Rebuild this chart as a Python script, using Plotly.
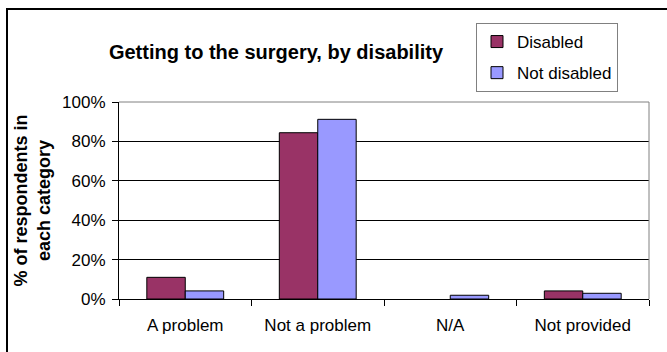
import plotly.graph_objects as go

categories = ["A problem", "Not a problem", "N/A", "Not provided"]
disabled = [0.11, 0.844, 0.0, 0.041]
not_disabled = [0.041, 0.912, 0.019, 0.029]
y_ticks = [0, 0.2, 0.4, 0.6, 0.8, 1.0]

W, H = 667, 352
L, R, T, B = 119, 18, 102, 53
pw, ph = W - L - R, H - T - B

FONT = "Liberation Sans, Arial, sans-serif"

def outline(vals):
    # zero-height bars are not outlined in the original
    return [1 if v > 0 else 0 for v in vals]

fig = go.Figure()
fig.add_trace(go.Bar(x=categories, y=disabled, name="Disabled",
                     marker=dict(color="#993366",
                                 line=dict(color="black", width=outline(disabled))),
                     legendgroup="a"))
fig.add_trace(go.Bar(x=categories, y=not_disabled, name="Not disabled",
                     marker=dict(color="#9999FF",
                                 line=dict(color="black", width=outline(not_disabled))),
                     legendgroup="b"))

def px_x(p):
    return (p - L) / pw

def px_y(p):
    return (H - B - p) / ph

fig.update_layout(
    width=W, height=H,
    margin=dict(l=L, r=R, t=T, b=B, pad=0),
    paper_bgcolor="white", plot_bgcolor="white",
    font=dict(family=FONT, size=17, color="black"),
    barmode="group", bargap=0.42, bargroupgap=0,
    title=dict(text="<b>Getting to the surgery, by disability</b>",
               font=dict(size=20, family=FONT, color="black"),
               xref="container", x=276 / W, xanchor="center",
               yref="container", y=1 - 52 / H, yanchor="middle"),
    showlegend=True,
    legend=dict(x=px_x(476), xanchor="left", y=px_y(23), yanchor="top",
                bordercolor="#808080", borderwidth=1, bgcolor="white",
                font=dict(size=17, family=FONT, color="black"),
                traceorder="grouped", tracegroupgap=6),
    xaxis=dict(showline=True, linecolor="black", linewidth=1,
               ticks="outside", ticklen=6, tickcolor="black", tickson="boundaries",
               showgrid=False, mirror=False, ticklabelstandoff=11,
               tickfont=dict(size=17, family=FONT, color="black")),
    yaxis=dict(range=[0, 1], tickvals=y_ticks, tickformat=".0%",
               showline=True, linecolor="black", linewidth=1,
               ticks="outside", ticklen=6, tickcolor="black",
               showgrid=True, gridcolor="black", gridwidth=1,
               zeroline=False, ticklabelstandoff=3,
               tickfont=dict(size=17, family=FONT, color="black"),
               title=dict(text="<b>% of respondents in<br>each category</b>",
                          font=dict(size=18, family=FONT, color="black"),
                          standoff=6)),
    shapes=[
        # gray plot-area border (top and right)
        dict(type="line", xref="paper", yref="paper", x0=0, x1=1, y0=1, y1=1,
             line=dict(color="#808080", width=1)),
        dict(type="line", xref="paper", yref="paper", x0=1, x1=1, y0=0, y1=1,
             line=dict(color="#808080", width=1)),
        # outer chart border (left and top edges visible)
        dict(type="line", xref="paper", yref="paper", x0=px_x(7), x1=px_x(7),
             y0=px_y(H + 10), y1=px_y(8), line=dict(color="black", width=2)),
        dict(type="line", xref="paper", yref="paper", x0=px_x(6), x1=px_x(W + 10),
             y0=px_y(9), y1=px_y(9), line=dict(color="black", width=2)),
    ],
)

fig.write_html("out.html")
